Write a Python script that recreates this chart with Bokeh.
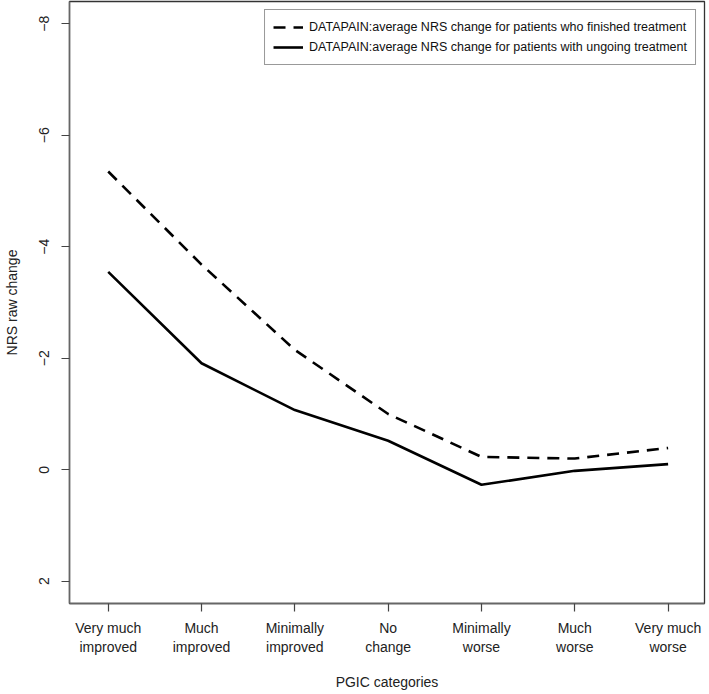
from bokeh.plotting import figure
from bokeh.models import Range1d, FixedTicker, Legend, LegendItem
from bokeh.embed import file_html
from bokeh.resources import INLINE

categories = ["Very much\nimproved", "Much\nimproved", "Minimally\nimproved", "No\nchange",
              "Minimally\nworse", "Much\nworse", "Very much\nworse"]
cat_pos = [1, 2, 3, 4, 5, 6, 7]
finished = [-5.35, -3.68, -2.15, -1.0, -0.23, -0.2, -0.39]
ongoing = [-3.55, -1.91, -1.07, -0.52, 0.27, 0.02, -0.1]
y_ticks = [2, 0, -2, -4, -6, -8]

FONT = "Liberation Sans"

p = figure(frame_width=635, frame_height=602, output_backend="svg", toolbar_location=None,
           x_range=Range1d(0.585, 7.39), y_range=Range1d(2.4, -8.4),
           min_border_left=69, min_border_right=4, min_border_top=1, min_border_bottom=8)
p.grid.visible = False
p.outline_line_color = "#333333"
p.outline_line_width = 1.3
p.background_fill_color = "white"
p.border_fill_color = "white"

r1 = p.line(cat_pos, finished, line_color="black", line_width=2.6, line_dash="12 8")
r2 = p.line(cat_pos, ongoing, line_color="black", line_width=2.6)

xa = p.xaxis[0]
xa.ticker = FixedTicker(ticks=cat_pos)
xa.major_label_overrides = {k: v for k, v in zip(cat_pos, categories)}
xa.axis_label = "PGIC categories"

ya = p.yaxis[0]
ya.ticker = FixedTicker(ticks=y_ticks)
ya.major_label_orientation = "vertical"
ya.axis_label = "NRS raw change"

for ax in (xa, ya):
    ax.axis_line_color = "#666666"
    ax.axis_line_width = 1.5
    ax.major_tick_line_color = "#444444"
    ax.major_tick_line_width = 1.2
    ax.major_tick_out = 8
    ax.major_tick_in = 0
    ax.minor_tick_line_color = None
    ax.major_label_text_font = FONT
    ax.major_label_text_font_size = "14px"
    ax.major_label_text_color = "#222222"
    ax.axis_label_text_font = FONT
    ax.axis_label_text_font_size = "14px"
    ax.axis_label_text_font_style = "normal"
    ax.axis_label_text_color = "#222222"

xa.major_label_standoff = 8
xa.axis_label_standoff = 16
ya.major_label_standoff = 12
ya.axis_label_standoff = 17

legend = Legend(items=[
    LegendItem(label="DATAPAIN:average NRS change for patients who finished treatment", renderers=[r1]),
    LegendItem(label="DATAPAIN:average NRS change for patients with ungoing treatment", renderers=[r2]),
], location="top_right")
legend.label_text_font = FONT
legend.label_text_font_size = "12.5px"
legend.label_text_color = "#111111"
legend.border_line_color = "#333333"
legend.border_line_width = 1
legend.margin = 8
legend.padding = 8
legend.spacing = 2
legend.glyph_width = 30
legend.label_standoff = 6
legend.label_height = 18
legend.glyph_height = 18
legend.background_fill_alpha = 1
p.add_layout(legend)

open("out.html", "w").write(file_html(p, INLINE))
